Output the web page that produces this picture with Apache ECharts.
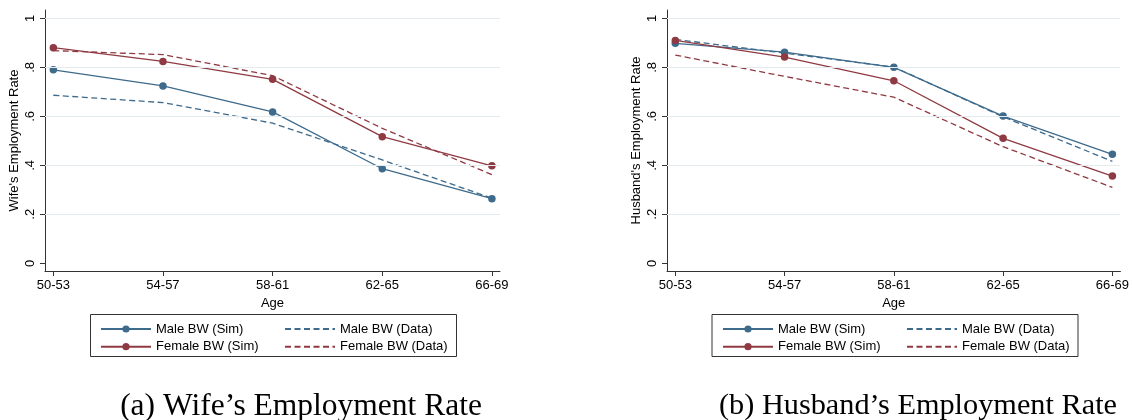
<!DOCTYPE html>
<html><head><meta charset="utf-8">
<script src="https://cdn.jsdelivr.net/npm/echarts@6/dist/echarts.min.js"></script>
<style>html,body{margin:0;padding:0;background:#fff}#c{width:1132px;height:420px}</style>
</head><body><div id="c"></div>
<script>
const categories = ["50-53", "54-57", "58-61", "62-65", "66-69"];
const yTickValues = [0, 0.2, 0.4, 0.6, 0.8, 1];
const yTickLabels = ["0", ".2", ".4", ".6", ".8", "1"];
const gridValues = [0.2, 0.4, 0.6, 0.8, 1];
const seriesNames = ["Male BW (Sim)", "Male BW (Data)", "Female BW (Sim)", "Female BW (Data)"];
const wifeMaleSim = [0.790, 0.724, 0.618, 0.386, 0.264];
const wifeMaleData = [0.686, 0.656, 0.572, 0.422, 0.266];
const wifeFemaleSim = [0.880, 0.824, 0.751, 0.517, 0.398];
const wifeFemaleData = [0.868, 0.852, 0.766, 0.551, 0.362];
const husbMaleSim = [0.898, 0.862, 0.800, 0.601, 0.445];
const husbMaleData = [0.914, 0.858, 0.801, 0.598, 0.416];
const husbFemaleSim = [0.910, 0.842, 0.745, 0.510, 0.356];
const husbFemaleData = [0.850, 0.763, 0.678, 0.476, 0.310];
const yTitles = ["Wife's Employment Rate", "Husband's Employment Rate"];
const xTitle = "Age";
const captions = ["(a) Wife\u2019s Employment Rate", "(b) Husband\u2019s Employment Rate"];

const BLUE = '#3e6a8b', RED = '#8f3a42', GRID = '#e3ebee', AXIS = '#333';
const FONT = '"Liberation Sans", Arial, sans-serif';
const panels = [
  { left: 45, legendA: 95, legendB: 279, frameX: 90, capX: 296, capSize: 31.5,
    data: [wifeMaleSim, wifeMaleData, wifeFemaleSim, wifeFemaleData] },
  { left: 667, legendA: 717, legendB: 901, frameX: 711.5, capX: 913, capSize: 30.3,
    data: [husbMaleSim, husbMaleData, husbFemaleSim, husbFemaleData] }
];
const catIdx = categories.map((c, i) => i);

const grids = [], xAxes = [], yAxes = [], series = [], legends = [], graphics = [], titles = [];
panels.forEach((p, k) => {
  grids.push({ left: p.left, width: 455, top: 10, height: 261 });
  xAxes.push({
    type: 'value', gridIndex: k, min: -0.076, max: 4.074,
    name: xTitle, nameLocation: 'middle', nameGap: 19,
    nameTextStyle: { fontSize: 13, color: '#000', fontFamily: FONT },
    axisLine: { show: true, onZero: false, lineStyle: { color: AXIS, width: 1 } },
    axisTick: { show: true, length: 5, customValues: catIdx, lineStyle: { color: AXIS } },
    axisLabel: { customValues: catIdx, margin: 8, fontSize: 13, color: '#000', fontFamily: FONT,
      formatter: v => categories[Math.round(v)] },
    splitLine: { show: false }
  });
  yAxes.push({
    type: 'value', gridIndex: k, min: -0.0314, max: 1.034,
    name: yTitles[k], nameLocation: 'middle', nameGap: 24,
    nameTextStyle: { fontSize: 13, color: '#000', fontFamily: FONT },
    axisLine: { show: true, onZero: false, lineStyle: { color: AXIS, width: 1 } },
    axisTick: { show: true, length: 5, customValues: yTickValues, lineStyle: { color: AXIS } },
    axisLabel: { customValues: yTickValues, rotate: 90, margin: 8, fontSize: 13, color: '#000', fontFamily: FONT,
      formatter: v => {
        let best = 0;
        yTickValues.forEach((t, i) => { if (Math.abs(t - v) < Math.abs(yTickValues[best] - v)) best = i; });
        return yTickLabels[best];
      } },
    splitLine: { show: false }
  });
  series.push({
    type: 'line', name: '_grid' + k, xAxisIndex: k, yAxisIndex: k, data: [], z: 1, silent: true,
    markLine: { silent: true, symbol: ['none', 'none'], label: { show: false }, animation: false,
      lineStyle: { color: GRID, type: 'solid', width: 1 },
      data: gridValues.map(v => ({ yAxis: v })) }
  });
  const colors = [BLUE, BLUE, RED, RED];
  p.data.forEach((d, j) => {
    const isSim = j % 2 === 0;
    series.push({
      type: 'line', name: seriesNames[j], xAxisIndex: k, yAxisIndex: k, z: isSim ? 4 : 3,
      data: d.map((v, i) => [catIdx[i], v]),
      symbol: isSim ? 'circle' : 'none', symbolSize: 7.5, showSymbol: isSim,
      itemStyle: { color: colors[j] },
      lineStyle: { color: colors[j], width: 1.3, type: isSim ? 'solid' : [6, 3.5] }
    });
  });
  const legendBase = {
    orient: 'vertical', top: 317.5, itemWidth: 50, itemHeight: 9, itemGap: 4.7,
    textStyle: { fontSize: 13, color: '#000', fontFamily: FONT, lineHeight: 13 },
    selectedMode: false
  };
  legends.push(Object.assign({}, legendBase, { left: p.legendA,
    data: [seriesNames[0], seriesNames[2]] }));
  legends.push(Object.assign({}, legendBase, { left: p.legendB,
    data: [{ name: seriesNames[1], itemStyle: { opacity: 0 } }, { name: seriesNames[3], itemStyle: { opacity: 0 } }] }));
  graphics.push({ type: 'rect', shape: { x: p.frameX + 0.5, y: 314.5, width: 366, height: 42 },
    style: { fill: 'none', stroke: '#333', lineWidth: 1 }, silent: true });
  titles.push({ text: captions[k], left: p.capX, top: 386, textAlign: 'center',
    textStyle: { fontSize: p.capSize, fontWeight: 'normal', color: '#000', fontFamily: '"Liberation Serif", "Times New Roman", serif' } });
});

const chart = echarts.init(document.getElementById('c'), null, { renderer: 'canvas' });
chart.setOption({
  backgroundColor: '#fff', animation: false,
  title: titles, grid: grids, xAxis: xAxes, yAxis: yAxes, series: series, legend: legends,
  graphic: graphics
});
</script></body></html>
